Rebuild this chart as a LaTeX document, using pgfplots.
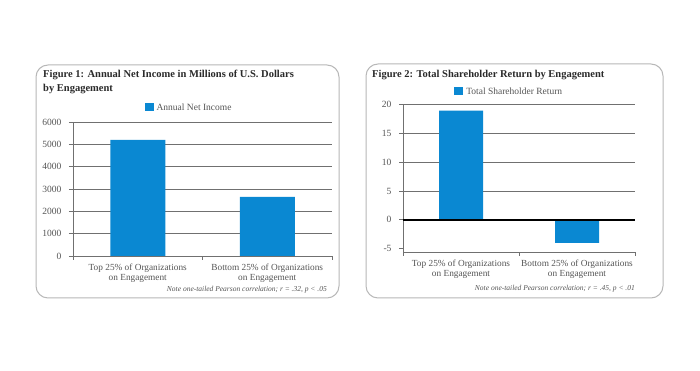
\documentclass[border=0pt]{standalone}
\usepackage{fontspec}
\setmainfont{Liberation Serif}
\usepackage{pgfplots}
\pgfplotsset{compat=1.18}
\definecolor{barblue}{HTML}{0A88D2}
\definecolor{boxgray}{HTML}{B8B8B8}
\definecolor{gridgray}{HTML}{707070}
\definecolor{labgray}{HTML}{555555}
\definecolor{titlecol}{HTML}{2A2A2A}

\pgfplotsset{
 engstyle/.style={
  scale only axis,
  xmin=-0.5, xmax=1.5,
  xtick={-0.5,0.5,1.5},
  x tick label as interval,
  xticklabels={{Top 25\% of Organizations\\on Engagement},{Bottom 25\% of Organizations\\on Engagement}},
  x tick label style={align=center, font=\fontsize{9.3}{10.5}\selectfont, text=labgray},
  y tick label style={font=\fontsize{9.5}{11}\selectfont, text=labgray, xshift=-4pt},
  /pgf/number format/assume math mode=true,
  /pgf/number format/1000 sep={},
  tick align=outside,
  major tick length=4pt,
  axis x line*=bottom, axis y line*=left,
  axis line style={gridgray, line width=0.8pt},
  tick style={gridgray, line width=0.8pt},
  legend style={draw=none, fill=none, font=\fontsize{9.5}{11}\selectfont, text=labgray, anchor=south, inner sep=0pt, legend cell align=left, nodes={inner xsep=3pt}},
  legend image code/.code={\fill[barblue] (0pt,-3.5pt) rectangle (9pt,4.5pt);},
 }
}

\begin{document}
\begin{tikzpicture}[x=1pt,y=1pt]
\fill[white] (0,0) rectangle (700,371);
\draw[boxgray, line width=1pt, rounded corners=12pt] (36,73) rectangle (339,306);
\draw[boxgray, line width=1pt, rounded corners=12pt] (366,73) rectangle (663,307);

\node[anchor=north west, align=left, font=\bfseries\fontsize{10.5}{14}\selectfont, text=titlecol, inner sep=0pt] at (43,301) {Figure 1: Annual Net Income in Millions of U.S. Dollars\\by Engagement};
\node[anchor=north west, align=left, font=\bfseries\fontsize{10.5}{14}\selectfont, text=titlecol, inner sep=0pt] at (372,301) {Figure 2: Total Shareholder Return by Engagement};

\begin{axis}[engstyle, at={(73pt,115pt)}, anchor=south west, width=259pt, height=134pt,
  ymin=0, ymax=6000, ytick={0,1000,...,6000},
  ymajorgrids, grid style={gridgray, line width=0.8pt},
  legend style={at={(0.45,1)}, yshift=8pt}]
\addplot[ybar, bar width=55pt, fill=barblue, draw=none] coordinates {(0,5200) (1,2650)};
\legend{Annual Net Income}
\end{axis}

\begin{axis}[engstyle, at={(403pt,119pt)}, anchor=south west, width=232pt, height=147.2pt,
  ymin=-5.6, ymax=20, ytick={-5,0,...,20},
  extra y ticks={5,10,15,20}, extra y tick labels={},
  extra y tick style={ymajorgrids=true, major tick length=0pt, grid style={gridgray, line width=0.8pt}},
  legend style={at={(0.46,1)}, yshift=7pt}]
\addplot[ybar, bar width=44pt, fill=barblue, draw=none] coordinates {(0,19.0) (1,-4.0)};
\legend{Total Shareholder Return}
\addplot[black, line width=1.6pt, forget plot] coordinates {(-0.5,0) (1.5,0)};
\end{axis}

\node[anchor=east, font=\itshape\fontsize{7.5}{9}\selectfont, text=labgray, inner sep=0pt] at (327,81) {Note one-tailed Pearson correlation; r = .32, p < .05};
\node[anchor=east, font=\itshape\fontsize{7.5}{9}\selectfont, text=labgray, inner sep=0pt] at (635,82) {Note one-tailed Pearson correlation; r = .45, p < .01};
\end{tikzpicture}
\end{document}
